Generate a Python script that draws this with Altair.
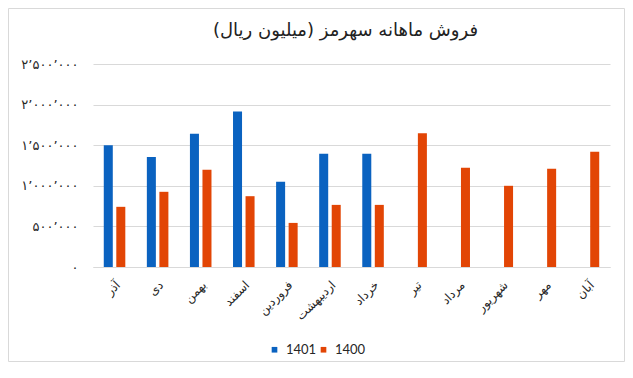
import altair as alt
import pandas as pd

months = ["آذر", "دی", "بهمن", "اسفند", "فروردین", "اردیبهشت", "خرداد",
          "تیر", "مرداد", "شهریور", "مهر", "آبان"]
sales_1401 = [1498000, 1354000, 1642000, 1914000, 1049000, 1395000, 1395000]
sales_1400 = [741000, 926000, 1198000, 872000, 543000, 765000, 765000,
              1646000, 1222000, 1000000, 1210000, 1420000]
series = ["1401", "1400"]
colors = ["#0a62c0", "#e24505"]
y_ticks = [0, 500000, 1000000, 1500000, 2000000, 2500000]
y_tick_labels = ["۰", "۵۰۰٬۰۰۰", "۱٬۰۰۰٬۰۰۰", "۱٬۵۰۰٬۰۰۰", "۲٬۰۰۰٬۰۰۰", "۲٬۵۰۰٬۰۰۰"]
title_text = "فروش ماهانه سهرمز (میلیون ریال)"

rows = []
for i, v in enumerate(sales_1401):
    rows.append({"month": months[i], "series": "1401", "value": v})
for i, v in enumerate(sales_1400):
    rows.append({"month": months[i], "series": "1400", "value": v})
df = pd.DataFrame(rows)

W, H = 517, 203
PAD = {"left": 85, "top": 56, "right": 15, "bottom": 95}

label_expr = ("[" + ",".join("'" + s + "'" for s in y_tick_labels) + "][indexof("
              + str(y_ticks) + ", datum.value)]")

bars = alt.Chart(df).mark_bar().encode(
    x=alt.X("month:N", sort=months,
            scale=alt.Scale(paddingInner=0.5, paddingOuter=0.25),
            axis=alt.Axis(title=None, labelAngle=-45, ticks=False, domain=True,
                          domainColor="#d9d9d9", labelFontSize=12, labelPadding=12,
                          labelFont="DejaVu Sans", labelColor="#262626", grid=False)),
    xOffset=alt.XOffset("series:N", sort=series,
                        scale=alt.Scale(domain=series, paddingInner=0.28)),
    y=alt.Y("value:Q", scale=alt.Scale(domain=[0, 2500000], nice=False),
            axis=alt.Axis(values=y_ticks, grid=True, gridColor="#d9d9d9", domain=False,
                          ticks=False, labelPadding=15, title=None, labelExpr=label_expr,
                          labelFont="DejaVu Sans", labelFontSize=13, labelColor="#262626")),
    color=alt.Color("series:N", sort=series,
                    scale=alt.Scale(domain=series, range=colors),
                    legend=alt.Legend(title=None, orient="none", direction="horizontal",
                                      legendX=175, legendY=279, symbolType="square",
                                      symbolSize=32, symbolStrokeWidth=0,
                                      labelFontSize=13, labelFont="Lato",
                                      labelColor="#262626", columnPadding=0,
                                      labelOffset=5)),
)

title = alt.Chart(pd.DataFrame({"t": [title_text]})).mark_text(
    font="DejaVu Sans", fontSize=18, color="#222222", align="center",
    baseline="alphabetic"
).encode(
    x=alt.value(W / 2 - 6),
    y=alt.value(-28),
    text="t:N",
)

border = alt.Chart(pd.DataFrame({"k": [0]})).mark_rect(
    fill=None, stroke="#d9d9d9", strokeWidth=1
).encode(
    x=alt.value(-PAD["left"] + 0.5),
    x2=alt.value(W + PAD["right"] - 0.5),
    y=alt.value(-PAD["top"] + 0.5),
    y2=alt.value(H + PAD["bottom"] - 0.5),
)

chart = alt.layer(bars, title, border).properties(
    width=W, height=H,
    autosize=alt.AutoSizeParams(type="none"),
    padding=PAD,
).configure_view(stroke=None)

chart.save("out.html", embed_options={"renderer": "svg", "actions": False})
